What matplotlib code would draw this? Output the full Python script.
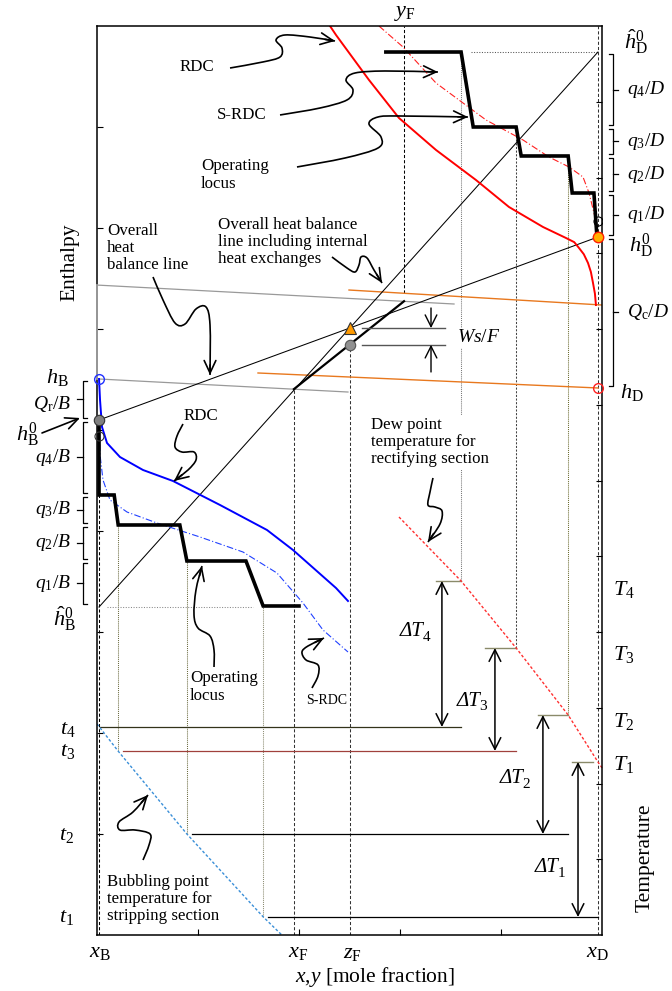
import numpy as np
import matplotlib
matplotlib.use("Agg")
import matplotlib.pyplot as plt
from matplotlib.path import Path
from matplotlib.patches import PathPatch

plt.rcParams['font.family'] = ['Liberation Serif', 'DejaVu Serif']
plt.rcParams['mathtext.fontset'] = 'custom'
plt.rcParams['mathtext.rm'] = 'Liberation Serif'
plt.rcParams['mathtext.it'] = 'Liberation Serif:italic'
plt.rcParams['mathtext.bf'] = 'Liberation Serif:bold'

# ---------------- compositions (mole fraction) ----------------
x_B, x_F, z_F, y_F, x_D = 0.004, 0.390, 0.500, 0.608, 0.992

# ---------------- enthalpy levels ----------------
h_D_hat0 = 1.7485
h_D0 = 1.3822
h_D = 1.0832
h_B = 1.101
h_B0 = 1.0198
h_B_hat0 = 0.6495

# residue / simplified residue curves (rectifying, red)
rdc_rect_x = [0.4614, 0.4733, 0.5386, 0.598, 0.6713, 0.7505, 0.8158, 0.8832, 0.9287,
              0.9450, 0.9545, 0.9640, 0.9723, 0.9780, 0.9822, 0.9860, 0.988]
rdc_rect_h = [1.80, 1.7822, 1.6931, 1.6178, 1.5545, 1.495, 1.4416, 1.402, 1.3802,
              1.3720, 1.3604, 1.3480, 1.3307, 1.3130, 1.2911, 1.2700, 1.2475]
srdc_rect_x = [0.5584, 0.606, 0.6713, 0.7703, 0.8436, 0.895, 0.9347, 0.9624, 0.9743, 0.9842, 0.990]
srdc_rect_h = [1.80, 1.7584, 1.6871, 1.6139, 1.5743, 1.5406, 1.5208, 1.501, 1.4693, 1.4297, 1.406]

# residue / simplified residue curves (stripping, blue)
rdc_strip_x = [0.004, 0.006, 0.0099, 0.0198, 0.0455, 0.0911, 0.1505, 0.2436, 0.3366, 0.3881, 0.4733, 0.497]
rdc_strip_h = [1.101, 1.0594, 1.006, 0.9743, 0.9465, 0.9208, 0.899, 0.8515, 0.802, 0.7624, 0.6871, 0.6614]
srdc_strip_x = [0.004, 0.006, 0.0119, 0.0257, 0.0594, 0.1188, 0.204, 0.2891, 0.3564, 0.4079, 0.4475, 0.497]
srdc_strip_h = [1.0198, 0.9505, 0.901, 0.8614, 0.8376, 0.8158, 0.7881, 0.7584, 0.7168, 0.6574, 0.604, 0.5604]

# operating loci (stage-by-stage)
rect_step_x = [0.572, 0.721, 0.745, 0.830, 0.840, 0.933, 0.941, 0.984, 0.990]
rect_step_h = [1.7485, 1.7485, 1.600, 1.600, 1.5426, 1.5426, 1.4693, 1.4693, 1.3822]
strip_step_x = [0.004, 0.004, 0.034, 0.042, 0.164, 0.178, 0.295, 0.329, 0.400]
strip_step_h = [1.0198, 0.8713, 0.8713, 0.8119, 0.8119, 0.7406, 0.7406, 0.6515, 0.6515]

# heat-balance lines: (x0, h0, x1, h1)
balance_upper = [0.0, 1.287, 0.707, 1.2495]
balance_lower = [x_B, h_B, 0.497, 1.0752]
internal_upper = [0.499, 1.2772, 1.0, 1.2475]
internal_lower = [0.3188, 1.1129, x_D, h_D]
feed_liquid_h, feed_vapor_h = 1.081, 1.255

# temperatures (t: stripping bubble points, T: rectifying dew points), stage 1..4
t_levels = [0.0356, 0.200, 0.3644, 0.4119]
t_line_x0 = [0.3386, 0.188, 0.0515, 0.006]
stage_liq_x = [0.329, 0.178, 0.042, 0.004]
T_levels = [0.3426, 0.4356, 0.5683, 0.701]
stage_vap_x = [0.992, 0.933, 0.830, 0.721]
T_tick_x0 = [0.9406, 0.873, 0.768, 0.671]
T_tick_x1 = [0.982, 0.933, 0.830, 0.721]
dT_arrow_x = [0.9525, 0.883, 0.788, 0.683]
dT_label_xy = [(0.897, 0.133), (0.828, 0.309), (0.743, 0.463), (0.630, 0.600)]
t_line_colors = ['black', 'black', '#a0403c', '#33331a']

bubble_x = [0.0, 0.042, 0.178, 0.329, 0.366]
bubble_t = [0.418, 0.364, 0.200, 0.036, 0.0]
dew_x = [0.598, 0.721, 0.830, 0.933, 0.992, 1.0]
dew_T = [0.8277, 0.701, 0.5683, 0.4356, 0.3426, 0.331]

# ---------------- figure ----------------
fig = plt.figure(figsize=(6.72, 9.91), dpi=100)
ax = fig.add_axes([97 / 672, 56 / 991, 505 / 672, 909 / 991])
ax.set_xlim(0, 1)
ax.set_ylim(0, 1.8)
ax.set_xticks([0.2, 0.4, 0.6, 0.8])
ax.set_yticks(np.arange(0.2, 1.61, 0.2))
ax.tick_params(direction='in', length=4, width=0.8, labelleft=False, labelbottom=False,
               left=True, bottom=True, right=False, top=False)
for s in ax.spines.values():
    s.set_linewidth(1.1)
ax2 = ax.twinx()
ax2.set_ylim(0, 12)
ax2.set_yticks(range(1, 12))
ax2.tick_params(direction='in', length=4, width=0.8, labelright=False)
for s in ax2.spines.values():
    s.set_visible(False)

thin = 0.75
dash = (0, (3, 2))

# composition marker lines
ax.plot([x_B, x_B], [0, strip_step_h[1]], color='black', lw=thin, ls=dash)
ax.plot([x_D, x_D], [0, 1.8], color='#333333', lw=thin, ls=dash)
ax.plot([x_F, x_F], [0, feed_liquid_h], color='#333333', lw=thin, ls=dash)
circle_h = feed_liquid_h + (z_F - x_F) / (y_F - x_F) * (feed_vapor_h - feed_liquid_h)
ax.plot([z_F, z_F], [0, circle_h], color='#333333', lw=thin, ls=dash)
yF_bottom = internal_upper[1] + (y_F - internal_upper[0]) / (internal_upper[2] - internal_upper[0]) * (internal_upper[3] - internal_upper[1])
ax.plot([y_F, y_F], [yF_bottom, 1.8], color='black', lw=thin, ls=dash)

# stage verticals down to the temperature levels
strip_styles = [('#8a8a70', (0, (1, 1))), ('#6b6b40', (0, (1, 1))), ('#6b6b40', (0, (1, 1)))]
strip_tops = [0.6515, 0.7406, 0.8119]
for i in range(3):
    c, ls = strip_styles[i]
    ax.plot([stage_liq_x[i]] * 2, [t_levels[i], strip_tops[i]], color=c, lw=thin, ls=ls)
rect_styles = [('#777777', (0, (1, 1))), ('#444444', (0, (2, 1.5))), ('#6b6b30', (0, (1, 1)))]
rect_tops = [1.7485, 1.600, 1.5426]
for j, i in enumerate([3, 2, 1]):
    c, ls = rect_styles[j]
    ax.plot([stage_vap_x[i]] * 2, [T_levels[i], rect_tops[j]], color=c, lw=thin, ls=ls)

# dotted reference enthalpies
ax.plot([0.7406, x_D], [h_D_hat0, h_D_hat0], color='#555555', lw=thin, ls=(0, (1, 1.5)))
ax.plot([0.0198, 0.309], [h_B_hat0, h_B_hat0], color='#888888', lw=thin, ls=(0, (1, 1.5)))

# heat balance lines
ax.plot([balance_upper[0], balance_upper[2]], [balance_upper[1], balance_upper[3]], color='#999999', lw=0.9)
ax.plot([balance_lower[0], balance_lower[2]], [balance_lower[1], balance_lower[3]], color='#999999', lw=0.9)
ax.plot([0.0, 0.0], [balance_upper[1], h_B], color='#a0a0a0', lw=1.3, zorder=3, clip_on=False)
ax.plot([internal_upper[0], internal_upper[2]], [internal_upper[1], internal_upper[3]], color='#e8781e', lw=1.0)
ax.plot([internal_lower[0], internal_lower[2]], [internal_lower[1], internal_lower[3]], color='#e8781e', lw=1.0)

# straight construction lines
ax.plot([x_B, x_D], [h_B_hat0, h_D_hat0], color='black', lw=thin)
ax.plot([x_B, x_D], [h_B0, h_D0], color='black', lw=thin)
ax.plot([x_F, y_F], [feed_liquid_h, feed_vapor_h], color='black', lw=1.6)

# curves
ax.plot(rdc_rect_x, rdc_rect_h, color='#ff0000', lw=1.4)
ax.plot(srdc_rect_x, srdc_rect_h, color='#ff2020', lw=0.8, ls=(0, (6, 2, 1, 2)))
ax.plot(rdc_strip_x, rdc_strip_h, color='#0000ff', lw=1.4)
ax.plot(srdc_strip_x, srdc_strip_h, color='#2040ff', lw=0.8, ls=(0, (6, 2, 1, 2)))

# operating loci
ax.plot(rect_step_x, rect_step_h, color='black', lw=2.6, solid_joinstyle='miter')
ax.plot(strip_step_x, strip_step_h, color='black', lw=2.6, solid_joinstyle='miter')

# temperature lines and temperature differences
for i in range(4):
    ax.plot([t_line_x0[i], stage_vap_x[i]], [t_levels[i]] * 2, color=t_line_colors[i], lw=0.9)
    ax.plot([T_tick_x0[i], T_tick_x1[i]], [T_levels[i]] * 2, color='#8a8a6a', lw=1.0)
    ax.annotate('', xy=(dT_arrow_x[i], t_levels[i]), xytext=(dT_arrow_x[i], T_levels[i]),
                arrowprops=dict(arrowstyle='<->,head_length=0.7,head_width=0.35', lw=1.1,
                                color='black', shrinkA=0, shrinkB=0, mutation_scale=12))
    lx, ly = dT_label_xy[i]
    anchor = (lx + 0.0168, ly)
    ax.text(anchor[0], anchor[1], '\u0394T', fontsize=15, style='italic', ha='right', va='center')
    ax.annotate(str(i + 1), xy=anchor, xytext=(-0.8, -4.0), textcoords='offset points',
                fontsize=11, ha='left', va='center')
ax.plot(bubble_x, bubble_t, color='#3a8fd8', lw=1.0, ls=(0, (2, 1.5)))
ax.plot(dew_x, dew_T, color='#ff3030', lw=1.0, ls=(0, (2, 1.5)), clip_on=False)

# Ws/F
Ws_x = [0.525, 0.689]
tri_h = h_B0 + (z_F - x_B) / (x_D - x_B) * (h_D0 - h_B0)
ax.plot(Ws_x, [tri_h, tri_h], color='#555555', lw=1.0)
ax.plot(Ws_x, [circle_h, circle_h], color='#555555', lw=1.0)
arr = dict(arrowstyle='->,head_length=0.7,head_width=0.35', lw=1.0, color='black',
           shrinkA=0, shrinkB=0, mutation_scale=12)
ax.annotate('', xy=(0.6614, tri_h), xytext=(0.6614, 1.2416), arrowprops=arr)
ax.annotate('', xy=(0.6614, circle_h), xytext=(0.6614, 1.1149), arrowprops=arr)
ax.text(0.7564, 1.1822, r'$Ws/F$', fontsize=14, ha='center', va='center',
        bbox=dict(facecolor='white', edgecolor='none', pad=1))

# markers
ax.plot([x_D], [h_D0], 'o', ms=7.5, mfc='#ffb000', mec='#ff2000', mew=1.0, zorder=6, clip_on=False)
ax.plot([x_D], [1.4139], 'o', ms=6.5, mfc='none', mec='black', mew=0.8, zorder=6)
ax.plot([x_D], [h_D], 'o', ms=7, mfc='none', mec='#ff2020', mew=1.0, zorder=6, clip_on=False)
ax.plot([x_B], [h_B], 'o', ms=7, mfc='none', mec='#2030ff', mew=1.0, zorder=6, clip_on=False)
ax.plot([x_B], [h_B0], 'o', ms=7.5, mfc='#808080', mec='#333333', mew=0.8, zorder=6, clip_on=False)
ax.plot([x_B], [0.9881], 'o', ms=6.5, mfc='none', mec='#333333', mew=0.8, zorder=6, clip_on=False)
ax.plot([z_F], [tri_h], '^', ms=8, mfc='#ff9a00', mec='#333333', mew=0.8, zorder=6)
ax.plot([z_F], [circle_h], 'o', ms=7.5, mfc='#909090', mec='#555555', mew=0.8, zorder=6)


# ---------------- braces and side labels ----------------
def brace(y_hi, y_lo, xs, hook, tip, gap=0.004):
    y0, y1 = y_hi - gap, y_lo + gap
    ym = 0.5 * (y0 + y1)
    ax.plot([xs + hook, xs, xs, xs + hook], [y0, y0, y1, y1], color='black', lw=0.9, clip_on=False)
    ax.plot([xs, xs + tip], [ym, ym], color='black', lw=0.9, clip_on=False)
    return ym


right_levels = [h_D_hat0, 1.600, 1.5426, 1.4693, h_D0, h_D]
right_labels = [r'$q_4/D$', r'$q_3/D$', r'$q_2/D$', r'$q_1/D$', r'$Q_\mathrm{c}/D$']
for i, lab in enumerate(right_labels):
    ym = brace(right_levels[i], right_levels[i + 1], 1.0218, -0.008, 0.010)
    ax.text(1.050, ym, lab, fontsize=14, ha='left', va='center', clip_on=False)

left_levels = [h_B, h_B0, 0.8713, 0.8119, 0.7406, 0.6515]
left_labels = [r'$Q_\mathrm{r}/B$', r'$q_4/B$', r'$q_3/B$', r'$q_2/B$', r'$q_1/B$']
for i, lab in enumerate(left_labels):
    ym = brace(left_levels[i], left_levels[i + 1], -0.0287, 0.008, -0.011)
    dy = -0.008 if i == 0 else 0.0
    ax.text(-0.052, ym + dy, lab, fontsize=14, ha='right', va='center', clip_on=False)

side_text = [
    (r'$\hat{h}_\mathrm{D}^0$', 1.0673, 1.7683),
    (r'$h_\mathrm{D}^0$', 1.0772, 1.3644),
    (r'$h_\mathrm{D}$', 1.0594, 1.0752),
    (r'$T_4$', 1.0436, 0.6832),
    (r'$T_3$', 1.0436, 0.5545),
    (r'$T_2$', 1.0436, 0.4218),
    (r'$T_1$', 1.0436, 0.3386),
    (r'$h_\mathrm{B}$', -0.0792, 1.103),
    (r'$h_\mathrm{B}^0$', -0.1386, 0.990),
    (r'$\hat{h}_\mathrm{B}^0$', -0.0653, 0.6257),
    (r'$t_4$', -0.0574, 0.4079),
    (r'$t_3$', -0.0574, 0.3624),
    (r'$t_2$', -0.0594, 0.198),
    (r'$t_1$', -0.0594, 0.0356),
    (r'$x_\mathrm{B}$', 0.006, -0.0356),
    (r'$x_\mathrm{F}$', 0.398, -0.0356),
    (r'$z_\mathrm{F}$', 0.505, -0.0370),
    (r'$x_\mathrm{D}$', 0.990, -0.0356),
    (r'$y_\mathrm{F}$', 0.6099, 1.8257),
]
for lab, x, y in side_text:
    ax.text(x, y, lab, fontsize=16, ha='center', va='center', clip_on=False)

ax.text(0.5505, -0.0832, r'$x$,$y$ [mole fraction]', fontsize=15.5, ha='center', va='center')
ax.text(-0.0535, 1.3327, 'Enthalpy', fontsize=15.5, rotation=90, ha='center', va='center')
ax.text(1.085, 0.1525, 'Temperature', fontsize=15.5, rotation=90, ha='center', va='center')

# ---------------- annotations ----------------
fs = 12.2
ax.text(0.198, 1.7188, 'RDC', fontsize=fs, ha='center', va='center')
ax.text(0.2871, 1.6238, 'S-RDC', fontsize=fs, ha='center', va='center')
ax.text(0.206, 1.505, 'Operating\nlocus', fontsize=fs, ha='left', va='center', linespacing=1.1)
ax.text(0.0198, 1.3604, 'Overall\nheat\nbalance line', fontsize=fs, ha='left', va='center', linespacing=1.1)
ax.text(0.2396, 1.3723, 'Overall heat balance\nline including internal\nheat exchanges', fontsize=fs,
        ha='left', va='center', linespacing=1.1)
ax.text(0.206, 1.0277, 'RDC', fontsize=fs, ha='center', va='center')
ax.text(0.1842, 0.4911, 'Operating\nlocus', fontsize=fs, ha='left', va='center', linespacing=1.1)
ax.text(0.4554, 0.4634, 'S-RDC', fontsize=10, ha='center', va='center')
ax.text(0.5426, 0.9762, 'Dew point\ntemperature for\nrectifying section', fontsize=fs, ha='left',
        va='center', linespacing=1.1, bbox=dict(facecolor='white', edgecolor='none', pad=1), zorder=4)
ax.text(0.0198, 0.0713, 'Bubbling point\ntemperature for\nstripping section', fontsize=fs, ha='left',
        va='center', linespacing=1.1, bbox=dict(facecolor='white', edgecolor='none', pad=0.5), zorder=4)

squiggles = [
    [(0.2634, 1.7168), (0.3287, 1.7288), (0.3624, 1.7386), (0.3663, 1.7564), (0.3545, 1.7723),
     (0.3723, 1.7822), (0.4218, 1.7782), (0.4713, 1.7703)],
    [(0.3624, 1.6238), (0.4416, 1.6376), (0.495, 1.6535), (0.5069, 1.6733), (0.4931, 1.6931),
     (0.5109, 1.7069), (0.5703, 1.7109), (0.6752, 1.7089)],
    [(0.396, 1.5208), (0.4911, 1.5386), (0.5564, 1.5584), (0.5624, 1.5802), (0.5386, 1.6059),
     (0.5564, 1.6198), (0.6, 1.6218), (0.7347, 1.6198)],
    [(0.1109, 1.303), (0.1307, 1.2574), (0.1545, 1.2119), (0.1743, 1.2099), (0.196, 1.2396),
     (0.2158, 1.2436), (0.2238, 1.2079), (0.2238, 1.1089)],
    [(0.4653, 1.3426), (0.495, 1.3208), (0.5109, 1.3129), (0.5188, 1.3267), (0.5228, 1.3426),
     (0.5347, 1.3406), (0.5485, 1.3168), (0.5644, 1.2911)],
    [(0.1703, 1.0119), (0.1584, 0.9881), (0.1545, 0.9663), (0.1683, 0.9564), (0.1921, 0.9564),
     (0.196, 0.9406), (0.1802, 0.9208), (0.1525, 0.899)],
    [(0.2317, 0.5307), (0.2317, 0.5644), (0.2238, 0.5921), (0.2, 0.6079), (0.1921, 0.6337),
     (0.196, 0.6832), (0.2079, 0.7307)],
    [(0.4257, 0.4891), (0.4376, 0.5129), (0.4376, 0.5347), (0.4139, 0.5446), (0.4059, 0.5604),
     (0.4178, 0.5723), (0.4495, 0.5881)],
    [(0.6653, 0.905), (0.6594, 0.8772), (0.6554, 0.8515), (0.6693, 0.8475), (0.6832, 0.8396),
     (0.6792, 0.8139), (0.6554, 0.7782)],
    [(0.0911, 0.1485), (0.103, 0.1782), (0.105, 0.2), (0.0752, 0.2079), (0.0455, 0.2079),
     (0.0436, 0.2238), (0.0713, 0.2436), (0.101, 0.2772)],
]


def catmull_bezier(pts):
    p = np.asarray(pts, float)
    ext = np.vstack([p[0], p, p[-1]])
    verts = [tuple(p[0])]
    codes = [Path.MOVETO]
    for i in range(1, len(ext) - 2):
        p0, p1, p2, p3 = ext[i - 1], ext[i], ext[i + 1], ext[i + 2]
        c1 = p1 + (p2 - p0) / 6.0
        c2 = p2 - (p3 - p1) / 6.0
        verts += [tuple(c1), tuple(c2), tuple(p2)]
        codes += [Path.CURVE4] * 3
    return Path(verts, codes)


for pts in squiggles:
    ax.add_patch(PathPatch(catmull_bezier(pts), facecolor='none', edgecolor='black', lw=1.2,
                           zorder=5, clip_on=False))
    a = np.asarray(pts[-1])
    b = np.asarray(pts[-2])
    d = (a - b) / np.hypot(*(a - b))
    ax.annotate('', xy=tuple(a), xytext=tuple(a - 0.02 * d),
                arrowprops=dict(arrowstyle='->,head_length=0.75,head_width=0.35', lw=1.2,
                                color='black', shrinkA=0, shrinkB=0, mutation_scale=12),
                annotation_clip=False, zorder=5)

ax.annotate('', xy=(-0.0337, 1.0238), xytext=(-0.1089, 0.9941),
            arrowprops=dict(arrowstyle='->,head_length=0.75,head_width=0.35', lw=1.2,
                            color='black', shrinkA=0, shrinkB=0, mutation_scale=12),
            annotation_clip=False)

fig.savefig('out.png', dpi=100)
